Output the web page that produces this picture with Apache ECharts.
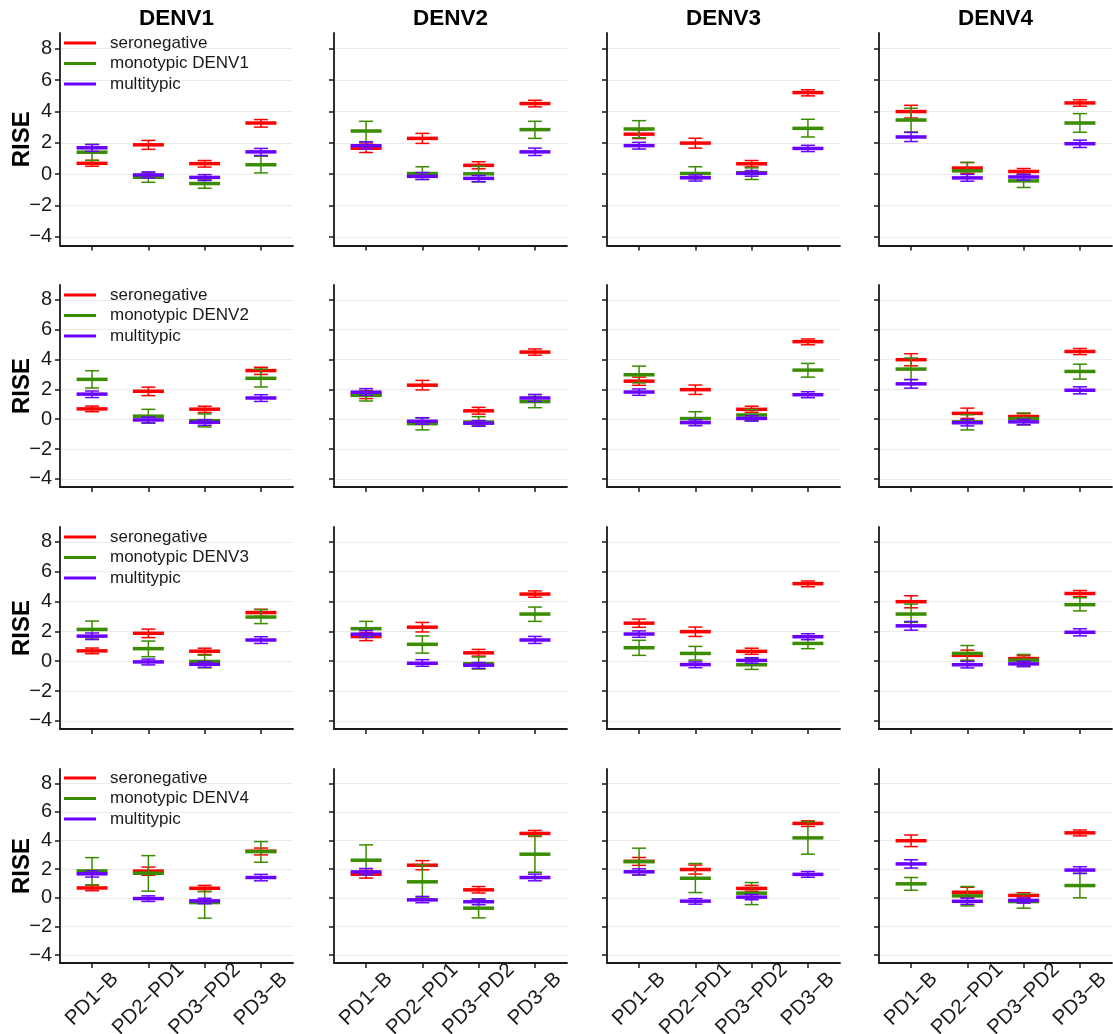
<!DOCTYPE html>
<html>
<head>
<meta charset="utf-8">
<script src="https://cdn.jsdelivr.net/npm/echarts@6/dist/echarts.min.js"></script>
<style>
html,body{margin:0;padding:0;background:#fff;}
#chart{width:1113px;height:1034px;}
</style>
</head>
<body>
<div id="chart"></div>
<script>
// ---------- data ----------
const categories = ['PD1\u2212B', 'PD2\u2212PD1', 'PD3\u2212PD2', 'PD3\u2212B'];
const serotypes = ['DENV1', 'DENV2', 'DENV3', 'DENV4'];
const yTicks = [-4, -2, 0, 2, 4, 6, 8];

// seronegative: [column serotype][category]
const seroMean = [
  [0.69, 1.87, 0.67, 3.26],
  [1.65, 2.28, 0.56, 4.50],
  [2.55, 1.98, 0.66, 5.20],
  [3.99, 0.39, 0.17, 4.54]];
const seroLow = [
  [0.50, 1.58, 0.45, 3.00],
  [1.38, 1.96, 0.34, 4.29],
  [2.27, 1.66, 0.46, 4.99],
  [3.58, 0.05, -0.03, 4.33]];
const seroHigh = [
  [0.88, 2.15, 0.87, 3.48],
  [1.92, 2.60, 0.79, 4.71],
  [2.82, 2.29, 0.87, 5.38],
  [4.39, 0.74, 0.36, 4.74]];

// multitypic: [column serotype][category]
const multiMean = [
  [1.68, -0.05, -0.21, 1.42],
  [1.81, -0.14, -0.27, 1.42],
  [1.82, -0.23, 0.05, 1.64],
  [2.37, -0.24, -0.18, 1.94]];
const multiLow = [
  [1.45, -0.25, -0.41, 1.19],
  [1.60, -0.34, -0.48, 1.19],
  [1.60, -0.44, -0.13, 1.44],
  [2.08, -0.45, -0.37, 1.70]];
const multiHigh = [
  [1.89, 0.14, -0.03, 1.64],
  [2.05, 0.10, -0.09, 1.66],
  [2.03, -0.05, 0.23, 1.84],
  [2.66, -0.02, -0.01, 2.17]];

// monotypic: [row (monotypic DENVr)][column serotype][category]
const monoMean = [
  [[1.40, -0.20, -0.60, 0.60], [2.75, 0.04, 0.02, 2.84], [2.88, 0.04, 0.09, 2.92], [3.45, 0.21, -0.43, 3.26]],
  [[2.67, 0.20, -0.10, 2.74], [1.60, -0.30, -0.19, 1.18], [2.98, 0.04, 0.28, 3.29], [3.36, -0.18, 0.04, 3.20]],
  [[2.13, 0.84, -0.02, 2.96], [2.18, 1.13, -0.17, 3.16], [0.90, 0.52, -0.24, 1.19], [3.16, 0.52, 0.07, 3.79]],
  [[1.88, 1.72, -0.33, 3.23], [2.63, 1.12, -0.72, 3.05], [2.53, 1.37, 0.33, 4.19], [0.98, 0.14, -0.26, 0.86]]];
const monoLow = [
  [[0.88, -0.52, -0.90, 0.08], [2.07, -0.34, -0.50, 2.28], [2.32, -0.30, -0.34, 2.37], [2.69, -0.20, -0.85, 2.67]],
  [[2.09, -0.27, -0.52, 2.16], [1.22, -0.72, -0.43, 0.77], [2.43, -0.30, -0.10, 2.82], [2.65, -0.72, -0.39, 2.69]],
  [[1.55, 0.30, -0.45, 2.52], [1.65, 0.54, -0.53, 2.67], [0.39, 0.07, -0.55, 0.84], [2.60, 0.05, -0.30, 3.37]],
  [[0.91, 0.47, -1.42, 2.49], [1.60, 0.00, -1.40, 1.79], [1.60, 0.37, -0.47, 3.05], [0.53, -0.56, -0.72, 0.00]]];
const monoHigh = [
  [[1.90, 0.10, -0.35, 1.14], [3.37, 0.47, 0.50, 3.37], [3.41, 0.47, 0.40, 3.50], [4.20, 0.75, 0.00, 3.86]],
  [[3.25, 0.66, 0.35, 3.36], [1.90, 0.08, 0.17, 1.53], [3.56, 0.50, 0.65, 3.74], [4.10, 0.30, 0.42, 3.69]],
  [[2.69, 1.35, 0.40, 3.46], [2.67, 1.69, 0.28, 3.63], [1.40, 0.99, 0.20, 1.60], [3.83, 1.05, 0.45, 4.26]],
  [[2.81, 2.95, 0.44, 3.93], [3.70, 2.30, -0.07, 4.33], [3.47, 2.40, 1.07, 5.33], [1.42, 0.79, 0.26, 1.72]]];

// ---------- layout / style ----------
const FONT = '"Liberation Sans", Arial, Helvetica, sans-serif';
const COLORS = ['#ff0000', '#3a8c00', '#6a00ff'];
const colLeft = [60, 334, 607, 879];
const colWidth = 233;
const rowTop = [33, 285, 527, 769];
const rowBottom = [245.5, 487, 729, 963];
const legendTop = [34.5, 286.5, 528.5, 769.5];
const Y_MIN = -4.55, Y_MAX = 9.0;
const X_MIN = 0.43, X_MAX = 4.57;
const AXIS_COLOR = '#1a1a1a';

function renderItem(params, api) {
  const color = api.visual('color');
  const x = api.value(0);
  const pm = api.coord([x, api.value(1)]);
  const pl = api.coord([x, api.value(2)]);
  const ph = api.coord([x, api.value(3)]);
  const half = 15.5, cap = 7;
  const thin = { stroke: color, lineWidth: 1.5 };
  return {
    type: 'group',
    children: [
      { type: 'line', shape: { x1: pl[0], y1: pl[1], x2: ph[0], y2: ph[1] }, style: thin },
      { type: 'line', shape: { x1: pl[0] - cap, y1: pl[1], x2: pl[0] + cap, y2: pl[1] }, style: thin },
      { type: 'line', shape: { x1: ph[0] - cap, y1: ph[1], x2: ph[0] + cap, y2: ph[1] }, style: thin },
      { type: 'line', shape: { x1: pm[0] - half, y1: pm[1], x2: pm[0] + half, y2: pm[1] },
        style: { stroke: color, lineWidth: 3.5 } }
    ]
  };
}

const grids = [], xAxes = [], yAxes = [], series = [], legends = [], graphics = [];

for (let r = 0; r < 4; r++) {
  for (let c = 0; c < 4; c++) {
    const idx = r * 4 + c;
    grids.push({
      left: colLeft[c], width: colWidth,
      top: rowTop[r], height: rowBottom[r] - rowTop[r],
      containLabel: false, outerBoundsMode: 'none'
    });
    xAxes.push({
      type: 'value', gridIndex: idx, min: X_MIN, max: X_MAX,
      axisLine: { show: true, onZero: false, lineStyle: { color: AXIS_COLOR, width: 1.8 } },
      axisTick: { show: true, length: 5, customValues: [1, 2, 3, 4], lineStyle: { color: AXIS_COLOR, width: 1.5 } },
      axisLabel: {
        show: r === 3, customValues: [1, 2, 3, 4],
        formatter: v => categories[Math.round(v) - 1],
        rotate: 45, align: 'center', verticalAlign: 'middle', margin: 36,
        hideOverlap: false,
        fontSize: 20.5, fontFamily: FONT, color: AXIS_COLOR
      },
      splitLine: { show: false }
    });
    yAxes.push({
      type: 'value', gridIndex: idx, min: Y_MIN, max: Y_MAX,
      name: c === 0 ? 'RISE' : '', nameLocation: 'middle', nameGap: 26,
      nameMoveOverlap: false,
      nameTextStyle: { fontSize: 24, fontWeight: 'bold', fontFamily: FONT, color: '#000' },
      axisLine: { show: true, onZero: false, lineStyle: { color: AXIS_COLOR, width: 1.8 } },
      axisTick: { show: true, length: 5, customValues: yTicks, lineStyle: { color: AXIS_COLOR, width: 1.5 } },
      axisLabel: {
        show: c === 0, customValues: yTicks, margin: 8,
        formatter: v => (v < 0 ? '\u2212' + Math.abs(v) : String(v)),
        fontSize: 20, fontFamily: FONT, color: AXIS_COLOR
      },
      splitLine: { show: true, lineStyle: { color: '#ebebeb', width: 1.2 } }
    });

    const monoName = 'monotypic ' + serotypes[r];
    const groups = [
      { name: 'seronegative', mean: seroMean[c], lo: seroLow[c], hi: seroHigh[c], color: COLORS[0] },
      { name: monoName, mean: monoMean[r][c], lo: monoLow[r][c], hi: monoHigh[r][c], color: COLORS[1] },
      { name: 'multitypic', mean: multiMean[c], lo: multiLow[c], hi: multiHigh[c], color: COLORS[2] }
    ];
    groups.forEach(g => {
      series.push({
        type: 'custom', name: g.name,
        xAxisIndex: idx, yAxisIndex: idx,
        color: g.color, itemStyle: { color: g.color },
        renderItem: renderItem,
        encode: { x: 0, y: [1, 2, 3] },
        data: categories.map((cat, k) => [k + 1, g.mean[k], g.lo[k], g.hi[k]]),
        silent: true, animation: false
      });
    });
  }
  legends.push({
    data: ['seronegative', 'monotypic ' + serotypes[r], 'multitypic'],
    orient: 'vertical', left: 64, top: legendTop[r],
    itemWidth: 32, itemHeight: 3, itemGap: 3.5, icon: 'rect',
    padding: 0, selectedMode: false,
    textStyle: { fontSize: 17, lineHeight: 17, fontFamily: FONT, color: '#1a1a1a', padding: [0, 0, 0, 9] }
  });
}

serotypes.forEach((s, c) => {
  graphics.push({
    type: 'text', x: colLeft[c] + colWidth / 2, y: 19,
    style: { text: s, textAlign: 'center', textVerticalAlign: 'middle',
      font: 'bold 22.5px ' + FONT, fill: '#000' }
  });
});

const chart = echarts.init(document.getElementById('chart'), null, { renderer: 'canvas' });
chart.setOption({
  animation: false,
  backgroundColor: '#ffffff',
  grid: grids, xAxis: xAxes, yAxis: yAxes,
  legend: legends, series: series, graphic: graphics
});
</script>
</body>
</html>
